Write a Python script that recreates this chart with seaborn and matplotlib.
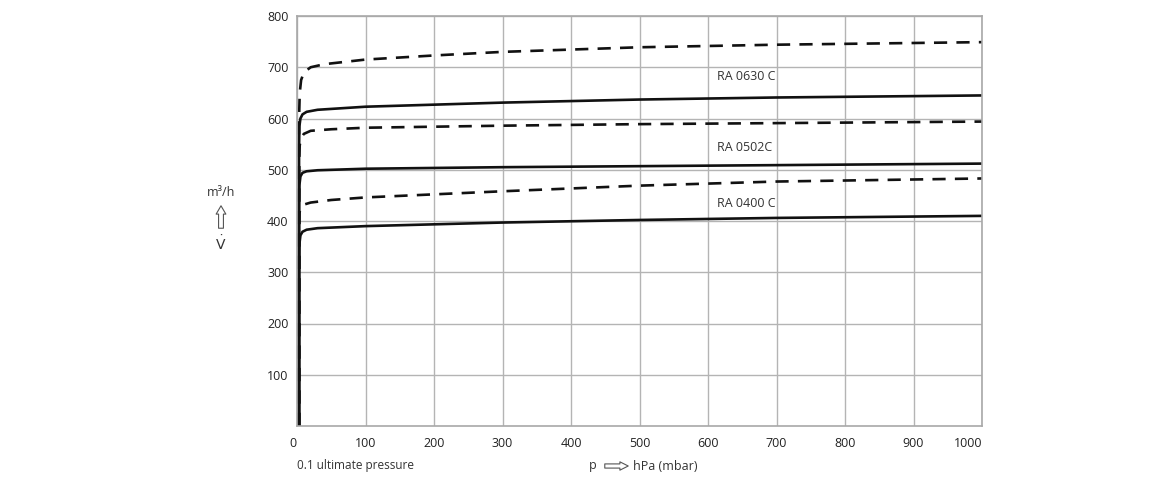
import numpy as np
import pandas as pd
import seaborn as sns
import matplotlib.pyplot as plt

# pumping speed curves, p in hPa, V in m3/h
p_0400_s = [3, 3, 3.5, 5, 8, 14, 30, 100, 300, 500, 700, 1000]
v_0400_s = [0, 300, 355, 372, 379, 383, 386, 390, 397, 402, 406, 410]
p_0400_d = [3, 3, 3.5, 5, 10, 20, 50, 100, 300, 500, 700, 1000]
v_0400_d = [0, 390, 415, 425, 432, 436, 441, 446, 458, 469, 477, 483]

p_0502_s = [3, 3, 3.5, 5, 8, 14, 30, 100, 300, 500, 700, 1000]
v_0502_s = [0, 430, 470, 487, 494, 497, 499, 502, 505, 507, 509, 512]
p_0502_d = [3, 3, 4, 6, 10, 20, 50, 100, 300, 500, 700, 1000]
v_0502_d = [0, 520, 548, 562, 570, 576, 579, 582, 586, 589, 591, 594]

p_0630_s = [3, 3, 3.5, 5, 8, 14, 30, 100, 300, 500, 700, 1000]
v_0630_s = [0, 540, 585, 600, 608, 613, 617, 623, 631, 637, 641, 645]
p_0630_d = [3, 3, 4, 6, 10, 20, 40, 100, 200, 300, 500, 700, 1000]
v_0630_d = [0, 600, 650, 675, 690, 700, 706, 715, 723, 730, 739, 744, 749]

labels = ["RA 0630 C", "RA 0502C", "RA 0400 C"]
label_pos = [(613, 682), (613, 543), (613, 435)]

x_ticks = [0, 100, 200, 300, 400, 500, 600, 700, 800, 900, 1000]
y_ticks = [100, 200, 300, 400, 500, 600, 700, 800]

sns.set_style("white")
plt.rcParams['font.family'] = ['Open Sans', 'DejaVu Sans']

fig = plt.figure(figsize=(11.6, 4.8), dpi=100)
ax = fig.add_axes([297 / 1160, 1 - 426 / 480, (982 - 297) / 1160, (426 - 16) / 480])

curves = [(p_0400_s, v_0400_s, '-'), (p_0400_d, v_0400_d, '--'),
          (p_0502_s, v_0502_s, '-'), (p_0502_d, v_0502_d, '--'),
          (p_0630_s, v_0630_s, '-'), (p_0630_d, v_0630_d, '--')]
for p, v, ls in curves:
    line = sns.lineplot(x=p, y=v, ax=ax, sort=False, estimator=None, color='#111111', lw=1.9)
    line.lines[-1].set_linestyle(ls)
    if ls == '--':
        line.lines[-1].set_dashes((5, 3.5))

for t, (px, pv) in zip(labels, label_pos):
    ax.text(px, pv, t, fontsize=9, color='#333333', ha='left', va='center')

ax.set_xlim(0, 1000)
ax.set_ylim(0, 800)
ax.set_xticks(x_ticks)
ax.set_yticks(y_ticks)
ax.grid(True, color='#b4b4b4', lw=1)
ax.set_axisbelow(True)
for s in ax.spines.values():
    s.set_color('#a8a8a8')
    s.set_linewidth(1.2)
ax.tick_params(length=0, labelsize=9, colors='#222222')
ax.tick_params(axis='x', pad=8)
ax.tick_params(axis='y', pad=6)
xl = ax.get_xticklabels()
xl[0].set_horizontalalignment('right')
xl[-1].set_horizontalalignment('right')

# axis captions
fig.text(221 / 1160, 1 - 192 / 480, "m³/h", fontsize=9, color='#333333', ha='center', va='center')
fig.text(221 / 1160, 1 - 245 / 480, r"$\dot{\mathrm{V}}$", fontsize=10, color='#333333', ha='center', va='center')
ax.annotate('', xy=(221, 480 - 203), xytext=(221, 480 - 231), xycoords='figure pixels',
            arrowprops=dict(arrowstyle='simple,head_width=0.7,head_length=0.6,tail_width=0.35',
                            fc='white', ec='#555555', lw=0.8))

fig.text(297 / 1160, 1 - 466 / 480, "0.1 ultimate pressure", fontsize=8.5, color='#333333', ha='left', va='center')
fig.text(589 / 1160, 1 - 466 / 480, "p", fontsize=9, color='#333333', ha='left', va='center')
ax.annotate('', xy=(631, 14), xytext=(602, 14), xycoords='figure pixels',
            arrowprops=dict(arrowstyle='simple,head_width=0.6,head_length=0.6,tail_width=0.3',
                            fc='white', ec='#555555', lw=0.8))
fig.text(633 / 1160, 1 - 466 / 480, "hPa (mbar)", fontsize=9, color='#333333', ha='left', va='center')

fig.savefig("out.png", dpi=100)
